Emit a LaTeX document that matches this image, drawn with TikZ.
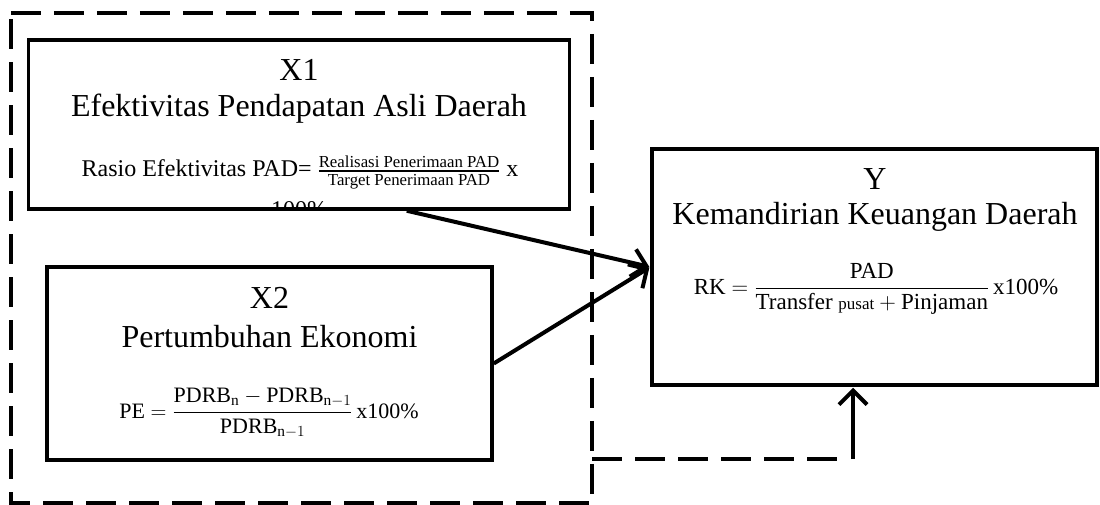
\documentclass[tikz,border=0pt]{standalone}
\usepackage{fix-cm}
\usepackage{amsmath}
\usepackage{fontspec}
\setmainfont{Liberation Serif}
\usetikzlibrary{arrows.meta,calc}

\begin{document}
\begin{tikzpicture}[x=1pt,y=-1pt,
  box/.style={draw,line width=3.5pt,rectangle,inner sep=0pt},
  framebox/.style={line width=4pt,dash pattern=on 30pt off 13pt},
  title/.style={anchor=base,inner sep=0pt,font=\fontsize{32}{38}\selectfont},
  formula/.style={anchor=base,inner sep=0pt},
  link/.style={line width=4pt,-{Straight Barb[length=14pt,width=28pt,line width=4pt]}},
]
\useasboundingbox (0,0) rectangle (1100,505);

% dashed frame around the two independent variables
\node[inner sep=0pt, minimum width=581pt, minimum height=489.5pt] (grp) at (301.5,258.25) {};
\draw[framebox] (grp.north west) -- (grp.north east) -- (grp.south east) -- (grp.south west) -- cycle;

% variable boxes
\node[box, minimum width=541pt, minimum height=169pt] (x1) at (299,124.5) {};
\node[box, minimum width=445pt, minimum height=193pt] (x2) at (269.5,363.5) {};
\node[box, minimum width=445pt, minimum height=236pt] (y) at (874.5,267) {};

% X1
\node[title] (x1a) at (299,81) {X1};
\node[title] (x1b) at (299,117) {Efektivitas Pendapatan Asli Daerah};
\node[formula, font=\fontsize{24}{28}\selectfont] (x1c) at (300,177)
  {Rasio Efektivitas PAD= $\genfrac{}{}{1.2pt}{1}{\text{Realisasi Penerimaan PAD}}{\text{Target Penerimaan PAD}}$ x};
\begin{scope}
  \clip ($(x1.south west)+(2,-2)$) rectangle ($(x1.north east)+(-2,2)$);
  \node[formula, font=\fontsize{24}{28}\selectfont] (x1d) at (299,218) {100\%};
\end{scope}

% X2
\node[title] (x2a) at (269.5,308) {X2};
\node[title] (x2b) at (269.5,347) {Pertumbuhan Ekonomi};
\node[formula, font=\fontsize{22}{26}\selectfont] (x2c) at (269,418)
  {PE $= \genfrac{}{}{1.5pt}{0}{\text{PDRB}_{\text{n}} - \text{PDRB}_{\text{n}-1}}{\text{PDRB}_{\text{n}-1}}$\,x100\%};

% Y
\node[title] (ya) at (875,190) {Y};
\node[title] (yb) at (875,225) {Kemandirian Keuangan Daerah};
\node[formula, font=\fontsize{23}{27}\selectfont] (yc) at (876,294)
  {RK $= \genfrac{}{}{1.5pt}{0}{\text{PAD}}{\text{Transfer {\fontsize{17}{17}\selectfont pusat}} + \text{Pinjaman}}$\,x100\%};

% connectors
\draw[link, shorten >=1pt] ($(x1.south west)+(380,0)$) -- (y.west);
\draw[link, shorten >=1pt] (x2.east) -- (y.west);
\coordinate (bend) at (853,459);
\draw[framebox] (grp.east |- bend) -- ($(bend)+(-6,0)$);
\draw[link, shorten >=1pt] (bend) -- (y.south -| bend);
\end{tikzpicture}
\end{document}
